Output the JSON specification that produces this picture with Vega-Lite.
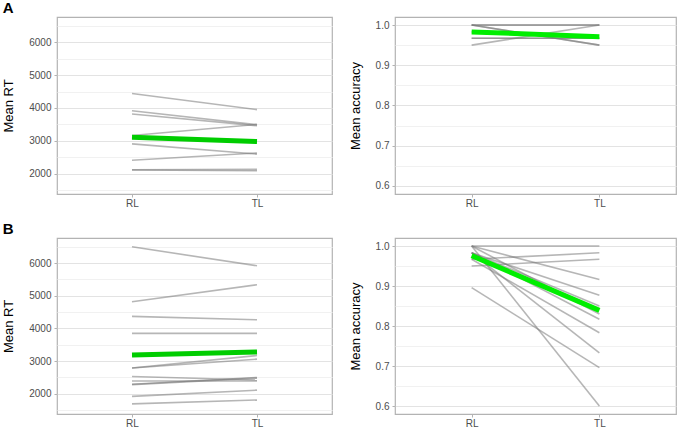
{
  "$schema": "https://vega.github.io/schema/vega-lite/v6.json",
  "padding": {"left": 2, "top": 0, "right": 0, "bottom": 0},
  "background": "white",
  "datasets": {
    "a_rt": [
      {"id": 1, "g": "ind", "c": "RL", "v": 4440}, {"id": 1, "g": "ind", "c": "TL", "v": 3950},
      {"id": 2, "g": "ind", "c": "RL", "v": 3915}, {"id": 2, "g": "ind", "c": "TL", "v": 3490},
      {"id": 3, "g": "ind", "c": "RL", "v": 3815}, {"id": 3, "g": "ind", "c": "TL", "v": 3460},
      {"id": 4, "g": "ind", "c": "RL", "v": 3160}, {"id": 4, "g": "ind", "c": "TL", "v": 3500},
      {"id": 5, "g": "ind", "c": "RL", "v": 2905}, {"id": 5, "g": "ind", "c": "TL", "v": 2595},
      {"id": 6, "g": "ind", "c": "RL", "v": 2410}, {"id": 6, "g": "ind", "c": "TL", "v": 2630},
      {"id": 7, "g": "ind", "c": "RL", "v": 2120}, {"id": 7, "g": "ind", "c": "TL", "v": 2130},
      {"id": 8, "g": "ind", "c": "RL", "v": 2110}, {"id": 8, "g": "ind", "c": "TL", "v": 2090},
      {"id": 0, "g": "mean", "c": "RL", "v": 3110}, {"id": 0, "g": "mean", "c": "TL", "v": 2978}
    ],
    "a_acc": [
      {"id": 1, "g": "ind", "c": "RL", "v": 1.0}, {"id": 1, "g": "ind", "c": "TL", "v": 0.95},
      {"id": 2, "g": "ind", "c": "RL", "v": 1.0}, {"id": 2, "g": "ind", "c": "TL", "v": 1.0},
      {"id": 3, "g": "ind", "c": "RL", "v": 1.0}, {"id": 3, "g": "ind", "c": "TL", "v": 0.95},
      {"id": 4, "g": "ind", "c": "RL", "v": 1.0}, {"id": 4, "g": "ind", "c": "TL", "v": 1.0},
      {"id": 5, "g": "ind", "c": "RL", "v": 0.95}, {"id": 5, "g": "ind", "c": "TL", "v": 1.0},
      {"id": 6, "g": "ind", "c": "RL", "v": 0.967}, {"id": 6, "g": "ind", "c": "TL", "v": 0.967},
      {"id": 7, "g": "ind", "c": "RL", "v": 0.967}, {"id": 7, "g": "ind", "c": "TL", "v": 0.967},
      {"id": 8, "g": "ind", "c": "RL", "v": 0.983}, {"id": 8, "g": "ind", "c": "TL", "v": 0.967},
      {"id": 0, "g": "mean", "c": "RL", "v": 0.983}, {"id": 0, "g": "mean", "c": "TL", "v": 0.971}
    ],
    "b_rt": [
      {"id": 1, "g": "ind", "c": "RL", "v": 6500}, {"id": 1, "g": "ind", "c": "TL", "v": 5920},
      {"id": 2, "g": "ind", "c": "RL", "v": 4820}, {"id": 2, "g": "ind", "c": "TL", "v": 5340},
      {"id": 3, "g": "ind", "c": "RL", "v": 4370}, {"id": 3, "g": "ind", "c": "TL", "v": 4265},
      {"id": 4, "g": "ind", "c": "RL", "v": 3850}, {"id": 4, "g": "ind", "c": "TL", "v": 3850},
      {"id": 5, "g": "ind", "c": "RL", "v": 2790}, {"id": 5, "g": "ind", "c": "TL", "v": 3170},
      {"id": 6, "g": "ind", "c": "RL", "v": 2790}, {"id": 6, "g": "ind", "c": "TL", "v": 3060},
      {"id": 7, "g": "ind", "c": "RL", "v": 2530}, {"id": 7, "g": "ind", "c": "TL", "v": 2420},
      {"id": 8, "g": "ind", "c": "RL", "v": 2390}, {"id": 8, "g": "ind", "c": "TL", "v": 2390},
      {"id": 9, "g": "ind", "c": "RL", "v": 2290}, {"id": 9, "g": "ind", "c": "TL", "v": 2500},
      {"id": 10, "g": "ind", "c": "RL", "v": 2280}, {"id": 10, "g": "ind", "c": "TL", "v": 2480},
      {"id": 11, "g": "ind", "c": "RL", "v": 1920}, {"id": 11, "g": "ind", "c": "TL", "v": 2110},
      {"id": 12, "g": "ind", "c": "RL", "v": 1690}, {"id": 12, "g": "ind", "c": "TL", "v": 1810},
      {"id": 0, "g": "mean", "c": "RL", "v": 3190}, {"id": 0, "g": "mean", "c": "TL", "v": 3278}
    ],
    "b_acc": [
      {"id": 1, "g": "ind", "c": "RL", "v": 0.967}, {"id": 1, "g": "ind", "c": "TL", "v": 0.983},
      {"id": 2, "g": "ind", "c": "RL", "v": 0.95}, {"id": 2, "g": "ind", "c": "TL", "v": 0.967},
      {"id": 3, "g": "ind", "c": "RL", "v": 0.896}, {"id": 3, "g": "ind", "c": "TL", "v": 0.696},
      {"id": 4, "g": "ind", "c": "RL", "v": 1.0}, {"id": 4, "g": "ind", "c": "TL", "v": 1.0},
      {"id": 5, "g": "ind", "c": "RL", "v": 1.0}, {"id": 5, "g": "ind", "c": "TL", "v": 0.6},
      {"id": 6, "g": "ind", "c": "RL", "v": 1.0}, {"id": 6, "g": "ind", "c": "TL", "v": 0.916},
      {"id": 7, "g": "ind", "c": "RL", "v": 0.983}, {"id": 7, "g": "ind", "c": "TL", "v": 0.877},
      {"id": 8, "g": "ind", "c": "RL", "v": 0.983}, {"id": 8, "g": "ind", "c": "TL", "v": 0.85},
      {"id": 9, "g": "ind", "c": "RL", "v": 1.0}, {"id": 9, "g": "ind", "c": "TL", "v": 0.83},
      {"id": 10, "g": "ind", "c": "RL", "v": 0.983}, {"id": 10, "g": "ind", "c": "TL", "v": 0.817},
      {"id": 11, "g": "ind", "c": "RL", "v": 0.967}, {"id": 11, "g": "ind", "c": "TL", "v": 0.783},
      {"id": 12, "g": "ind", "c": "RL", "v": 0.983}, {"id": 12, "g": "ind", "c": "TL", "v": 0.733},
      {"id": 0, "g": "mean", "c": "RL", "v": 0.976}, {"id": 0, "g": "mean", "c": "TL", "v": 0.839}
    ]
  },
  "columns": 2,
  "spacing": {"row": 44, "column": 63},
  "bounds": "flush",
  "concat": [
    {
      "title": {"text": "A", "anchor": "start", "frame": "bounds", "fontSize": 15, "fontWeight": "bold", "color": "#000000", "baseline": "alphabetic", "offset": 2, "dy": 13},
      "width": 275, "height": 177,
      "data": {"name": "a_rt"},
      "encoding": {
        "x": {"field": "c", "type": "ordinal", "scale": {"type": "point", "padding": 0.6, "domain": ["RL", "TL"]}, "axis": {"title": null}},
        "y": {"field": "v", "type": "quantitative", "scale": {"domain": [1380, 6770], "nice": false, "zero": false},
          "axis": {"title": "Mean RT", "format": "d", "values": [1500, 2000, 2500, 3000, 3500, 4000, 4500, 5000, 5500, 6000, 6500],
            "labelExpr": "datum.value % 1000 === 0 ? datum.label : ''",
            "tickColor": {"condition": {"test": "datum.value % 1000 === 0", "value": "#b3b3b3"}, "value": "transparent"},
            "gridColor": {"condition": {"test": "datum.value % 1000 === 0", "value": "#e3e3e3"}, "value": "#f1f1f1"}}}
      },
      "layer": [
        {"transform": [{"filter": "datum.g === 'ind'"}], "mark": {"type": "line", "stroke": "#7a7a7a", "strokeOpacity": 0.55, "strokeWidth": 1.6}, "encoding": {"detail": {"field": "id", "type": "nominal"}}},
        {"transform": [{"filter": "datum.g === 'mean'"}], "mark": {"type": "line", "stroke": "#00cd00", "strokeWidth": 5}, "encoding": {}}
      ]
    },
    {
      "width": 281, "height": 177,
      "data": {"name": "a_acc"},
      "encoding": {
        "x": {"field": "c", "type": "ordinal", "scale": {"type": "point", "padding": 0.6, "domain": ["RL", "TL"]}, "axis": {"title": null}},
        "y": {"field": "v", "type": "quantitative", "scale": {"domain": [0.58, 1.02], "nice": false, "zero": false},
          "axis": {"title": "Mean accuracy", "values": [0.6, 0.65, 0.7, 0.75, 0.8, 0.85, 0.9, 0.95, 1.0], "format": ".1f",
            "labelExpr": "abs(datum.value * 10 - round(datum.value * 10)) < 0.001 ? datum.label : ''",
            "tickColor": {"condition": {"test": "abs(datum.value * 10 - round(datum.value * 10)) < 0.001", "value": "#b3b3b3"}, "value": "transparent"},
            "gridColor": {"condition": {"test": "abs(datum.value * 10 - round(datum.value * 10)) < 0.001", "value": "#e3e3e3"}, "value": "#f1f1f1"}}}
      },
      "layer": [
        {"transform": [{"filter": "datum.g === 'ind'"}], "mark": {"type": "line", "stroke": "#7a7a7a", "strokeOpacity": 0.55, "strokeWidth": 1.6}, "encoding": {"detail": {"field": "id", "type": "nominal"}}},
        {"transform": [{"filter": "datum.g === 'mean'"}], "mark": {"type": "line", "stroke": "#00ee00", "strokeWidth": 5}, "encoding": {}}
      ]
    },
    {
      "title": {"text": "B", "anchor": "start", "frame": "bounds", "fontSize": 15, "fontWeight": "bold", "color": "#000000", "baseline": "alphabetic", "offset": 2, "dy": 13},
      "width": 275, "height": 176,
      "data": {"name": "b_rt"},
      "encoding": {
        "x": {"field": "c", "type": "ordinal", "scale": {"type": "point", "padding": 0.6, "domain": ["RL", "TL"]}, "axis": {"title": null}},
        "y": {"field": "v", "type": "quantitative", "scale": {"domain": [1380, 6770], "nice": false, "zero": false},
          "axis": {"title": "Mean RT", "format": "d", "values": [1500, 2000, 2500, 3000, 3500, 4000, 4500, 5000, 5500, 6000, 6500],
            "labelExpr": "datum.value % 1000 === 0 ? datum.label : ''",
            "tickColor": {"condition": {"test": "datum.value % 1000 === 0", "value": "#b3b3b3"}, "value": "transparent"},
            "gridColor": {"condition": {"test": "datum.value % 1000 === 0", "value": "#e3e3e3"}, "value": "#f1f1f1"}}}
      },
      "layer": [
        {"transform": [{"filter": "datum.g === 'ind'"}], "mark": {"type": "line", "stroke": "#7a7a7a", "strokeOpacity": 0.55, "strokeWidth": 1.6}, "encoding": {"detail": {"field": "id", "type": "nominal"}}},
        {"transform": [{"filter": "datum.g === 'mean'"}], "mark": {"type": "line", "stroke": "#00cd00", "strokeWidth": 5}, "encoding": {}}
      ]
    },
    {
      "width": 281, "height": 176,
      "data": {"name": "b_acc"},
      "encoding": {
        "x": {"field": "c", "type": "ordinal", "scale": {"type": "point", "padding": 0.6, "domain": ["RL", "TL"]}, "axis": {"title": null}},
        "y": {"field": "v", "type": "quantitative", "scale": {"domain": [0.58, 1.02], "nice": false, "zero": false},
          "axis": {"title": "Mean accuracy", "values": [0.6, 0.65, 0.7, 0.75, 0.8, 0.85, 0.9, 0.95, 1.0], "format": ".1f",
            "labelExpr": "abs(datum.value * 10 - round(datum.value * 10)) < 0.001 ? datum.label : ''",
            "tickColor": {"condition": {"test": "abs(datum.value * 10 - round(datum.value * 10)) < 0.001", "value": "#b3b3b3"}, "value": "transparent"},
            "gridColor": {"condition": {"test": "abs(datum.value * 10 - round(datum.value * 10)) < 0.001", "value": "#e3e3e3"}, "value": "#f1f1f1"}}}
      },
      "layer": [
        {"transform": [{"filter": "datum.g === 'ind'"}], "mark": {"type": "line", "stroke": "#7a7a7a", "strokeOpacity": 0.55, "strokeWidth": 1.6}, "encoding": {"detail": {"field": "id", "type": "nominal"}}},
        {"transform": [{"filter": "datum.g === 'mean'"}], "mark": {"type": "line", "stroke": "#00ee00", "strokeWidth": 5}, "encoding": {}}
      ]
    }
  ],
  "config": {
    "font": "Liberation Sans",
    "view": {"stroke": "#b3b3b3", "strokeWidth": 1.2},
    "axis": {"domain": false, "tickSize": 3, "tickWidth": 1, "tickColor": "#b3b3b3", "labelFontSize": 10, "labelColor": "#4d4d4d", "labelPadding": 3, "titleFontSize": 13, "titleFontWeight": "normal", "titleColor": "#000000", "gridColor": "#e3e3e3", "gridWidth": 1, "titlePadding": 13},
    "axisX": {"labelAngle": 0, "titlePadding": 4, "labelPadding": 1}
  }
}
